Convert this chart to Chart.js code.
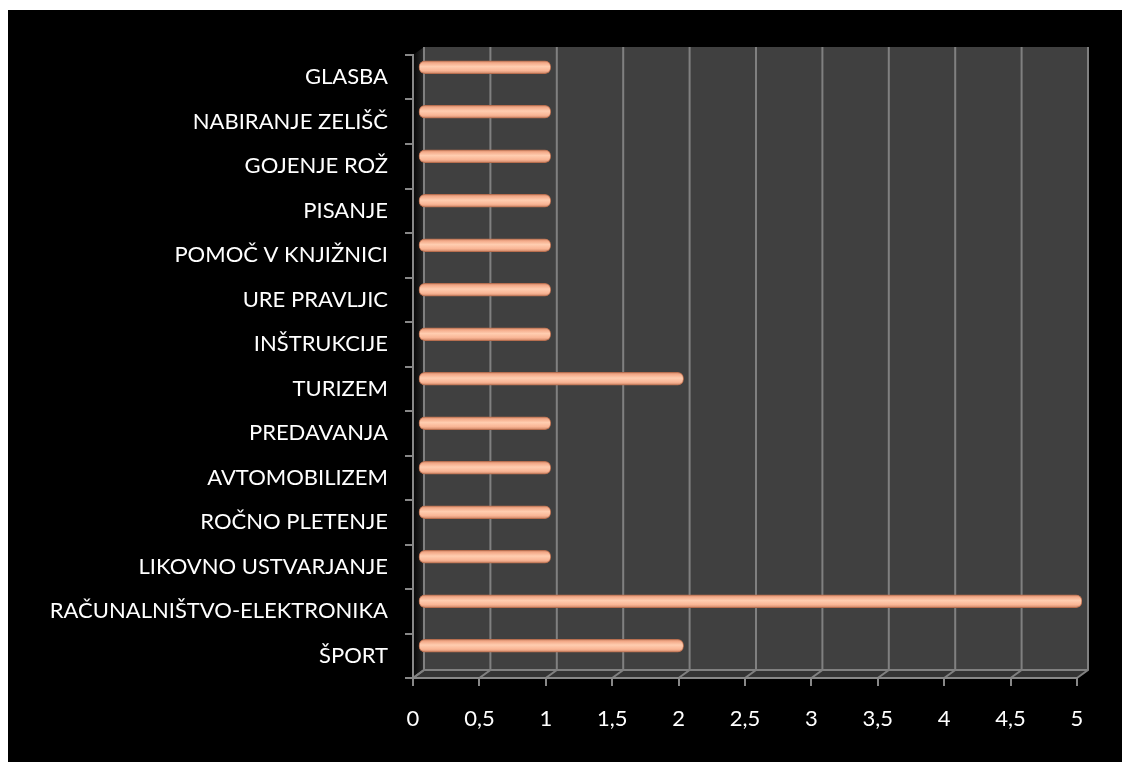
<!DOCTYPE html>
<html>
<head>
<meta charset="utf-8">
<script src="https://cdn.jsdelivr.net/npm/chart.js@4.4.0/dist/chart.umd.min.js"></script>
<style>
    html, body { margin: 0; padding: 0; background: #fff; }
    #box { position: absolute; left: 8px; top: 10px; width: 1114px; height: 752px; background: #000; }
</style>
</head>
<body>
<div id="box"><canvas id="chart" width="1114" height="752"></canvas></div>
<script>
// bottom to top, as in the sheet
const categories = ['ŠPORT', 'RAČUNALNIŠTVO-ELEKTRONIKA', 'LIKOVNO USTVARJANJE', 'ROČNO PLETENJE',
    'AVTOMOBILIZEM', 'PREDAVANJA', 'TURIZEM', 'INŠTRUKCIJE', 'URE PRAVLJIC', 'POMOČ V KNJIŽNICI',
    'PISANJE', 'GOJENJE ROŽ', 'NABIRANJE ZELIŠČ', 'GLASBA'];
const values = [2, 5, 1, 1, 1, 1, 2, 1, 1, 1, 1, 1, 1, 1];
const xTicks = ['0', '0,5', '1', '1,5', '2', '2,5', '3', '3,5', '4', '4,5', '5'];

const DX = 11, DY = -8;       // depth of the 3d box
const BX = 5, BY = -10;       // bars sit halfway in

function barFill(c) {
    const chart = c.chart;
    const y = chart.scales.y;
    if (!y || c.dataIndex == null) return '#f9b898';
    const cy = y.getPixelForValue(c.dataIndex);
    if (!isFinite(cy)) return '#f9b898';
    const g = chart.ctx.createLinearGradient(0, cy - 7, 0, cy + 7);
    g.addColorStop(0, '#c47c5c');
    g.addColorStop(0.2, '#f4ab8a');
    g.addColorStop(0.45, '#ffcdb0');
    g.addColorStop(0.75, '#f9b595');
    g.addColorStop(1, '#c27858');
    return g;
}

const box3d = {
    id: 'box3d',
    beforeDraw(chart) {
        const ctx = chart.ctx;
        const a = chart.chartArea;
        const x = chart.scales.x;
        const L = a.left, R = a.right, T = a.top, B = a.bottom;
        ctx.save();
        // side wall
        let g = ctx.createLinearGradient(L, 0, L + DX, 0);
        g.addColorStop(0, '#050505');
        g.addColorStop(1, '#2c2c2c');
        ctx.fillStyle = g;
        ctx.beginPath();
        ctx.moveTo(L, T); ctx.lineTo(L + DX, T + DY); ctx.lineTo(L + DX, B + DY); ctx.lineTo(L, B);
        ctx.closePath(); ctx.fill();
        // back wall
        ctx.fillStyle = '#404040';
        ctx.fillRect(L + DX, T + DY, R - L, B - T);
        // floor
        ctx.fillStyle = '#343434';
        ctx.beginPath();
        ctx.moveTo(L, B); ctx.lineTo(R, B); ctx.lineTo(R + DX, B + DY); ctx.lineTo(L + DX, B + DY);
        ctx.closePath(); ctx.fill();
        // grid on back wall and floor
        ctx.strokeStyle = '#808080';
        ctx.lineWidth = 2;
        for (let i = 0; i < xTicks.length; i++) {
            const px = x.getPixelForValue(i * 0.5);
            ctx.beginPath();
            ctx.moveTo(px + DX, T + DY);
            ctx.lineTo(px + DX, B + DY);
            ctx.lineTo(px, B);
            ctx.stroke();
        }
        ctx.beginPath();
        ctx.moveTo(L, B); ctx.lineTo(L + DX, B + DY); ctx.lineTo(R + DX, B + DY);
        ctx.stroke();
        ctx.restore();
    },
    beforeDatasetsDraw(chart) {
        chart.ctx.save();
        chart.ctx.translate(BX, BY);
    },
    afterDatasetsDraw(chart) {
        chart.ctx.restore();
    }
};

const font = { family: 'Lato', size: 22 };

new Chart(document.getElementById('chart'), {
    type: 'bar',
    data: {
        labels: categories,
        datasets: [{
            data: values,
            backgroundColor: barFill,
            borderColor: '#b86f50',
            borderWidth: 1,
            borderSkipped: false,
            borderRadius: 6,
            barThickness: 13
        }]
    },
    options: {
        indexAxis: 'y',
        responsive: false,
        animation: false,
        layout: { padding: { top: 45, right: 45, left: 0, bottom: 0 } },
        plugins: { legend: { display: false }, tooltip: { enabled: false } },
        scales: {
            x: {
                min: 0,
                max: 5,
                afterFit: (s) => { s.height = 84; },
                ticks: {
                    stepSize: 0.5,
                    color: '#fff',
                    font: font,
                    padding: 20,
                    maxRotation: 0,
                    callback: (v, i) => xTicks[i]
                },
                grid: { drawOnChartArea: false, color: '#888', lineWidth: 2, tickLength: 8 },
                border: { color: '#888', width: 2 }
            },
            y: {
                reverse: true,
                afterFit: (s) => { s.width = 405; },
                ticks: { color: '#fff', font: font, padding: 17 },
                grid: { drawOnChartArea: false, color: '#888', lineWidth: 2, tickLength: 8 },
                border: { color: '#888', width: 2 }
            }
        }
    },
    plugins: [box3d]
});
</script>
</body>
</html>
